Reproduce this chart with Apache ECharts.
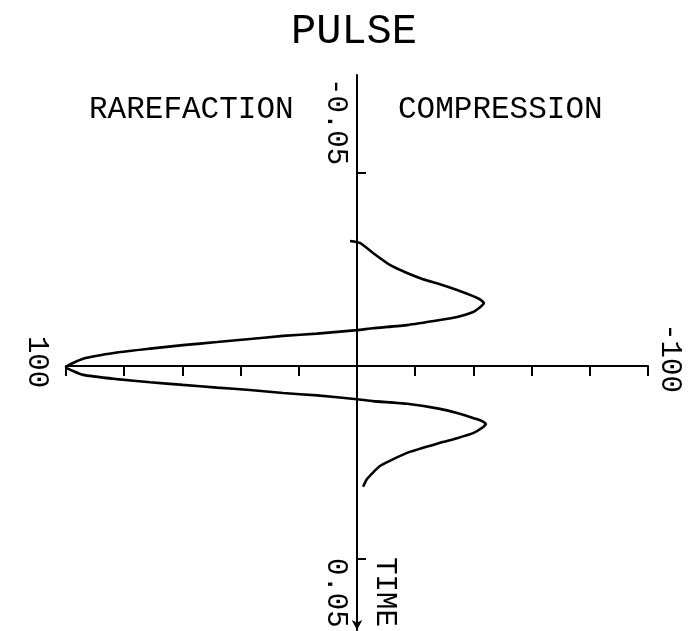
<!DOCTYPE html>
<html lang="en">
<head>
    <meta charset="UTF-8">
    <title>Pulse</title>
    <script type="text/javascript" src="https://cdn.jsdelivr.net/npm/echarts@6/dist/echarts.min.js"></script>
    <style>
        html, body { margin: 0; padding: 0; background: #fff; }
        #pulse { width: 697px; height: 631px; }
    </style>
</head>
<body>
<div id="pulse"></div>
<script type="text/javascript">
    // pulse: time (s) and pressure, in drawing order
    var timeVals = [
        -0.0324, -0.0319, -0.0293, -0.0262, -0.0241, -0.0225, -0.0212, -0.0197, -0.0181, -0.0172,
        -0.0163, -0.0153, -0.0140, -0.0127, -0.0119, -0.0106, -0.0098, -0.0093, -0.0084, -0.0078,
        -0.0070, -0.0062, -0.0054, -0.0045, -0.0035, -0.0019, 0.0003,
        0.0023, 0.0034, 0.0042, 0.0049, 0.0056, 0.0062, 0.0070, 0.0076, 0.0086,
        0.0091, 0.0098, 0.0111, 0.0122, 0.0135, 0.0142, 0.0150, 0.0160, 0.0174, 0.0187,
        0.0199, 0.0225, 0.0259, 0.0293, 0.0313
    ];
    var pressureVals = [
        2.4, -1.0, -5.5, -11.3, -17.2, -22.7, -28.5, -34.4, -39.9, -42.4,
        -43.6, -42.4, -39.9, -34.4, -28.5, -17.2, -5.5, 0, 13.7, 25.4,
        36.8, 48.1, 59.8, 71.1, 82.5, 94.1, 100,
        94.1, 82.5, 71.1, 59.8, 48.1, 36.8, 25.4, 13.7, 0,
        -5.5, -17.2, -28.5, -34.4, -39.9, -42.8, -44.3, -43.0, -39.9, -34.4,
        -28.5, -17.2, -7.9, -3.4, -2.1
    ];
    var timeTicks = [-0.05, 0.05];
    var timeTickLabels = ['-0.05', '0.05'];
    var pressureEnds = [100, -100];
    var pressureEndLabels = ['100', '-100'];

    var font = "'Liberation Mono', 'DejaVu Sans Mono', monospace";

    var chart = echarts.init(document.getElementById('pulse'));
    var points = [];
    for (var i = 0; i < timeVals.length; i++) {
        points.push([pressureVals[i], timeVals[i]]);
    }

    chart.setOption({
        backgroundColor: '#fff',
        animation: false,
        title: [
            { text: 'PULSE', left: 286, top: 6,
              textStyle: { fontFamily: font, fontSize: 42, fontWeight: 'normal', color: '#000' } },
            { text: 'RAREFACTION', left: 84, top: 89,
              textStyle: { fontFamily: font, fontSize: 31, fontWeight: 'normal', color: '#000' } },
            { text: 'COMPRESSION', left: 393, top: 89,
              textStyle: { fontFamily: font, fontSize: 31, fontWeight: 'normal', color: '#000' } }
        ],
        grid: { left: 66, width: 582, top: 75, height: 555 },
        xAxis: {
            type: 'value',
            min: -100,
            max: 100,
            interval: 20,
            inverse: true,
            axisLine: { onZero: true, lineStyle: { color: '#000', width: 2 } },
            axisTick: { length: 10, lineStyle: { color: '#000', width: 2 } },
            axisLabel: { show: false },
            splitLine: { show: false }
        },
        yAxis: {
            type: 'value',
            min: -0.0754,
            max: 0.0684,
            inverse: true,
            axisLine: {
                onZero: true,
                symbol: ['arrow', 'none'],
                symbolSize: [8, 10],
                lineStyle: { color: '#000', width: 2 }
            },
            axisTick: { inside: true, length: 9, customValues: timeTicks, lineStyle: { color: '#000', width: 2 } },
            axisLabel: { show: false },
            splitLine: { show: false }
        },
        series: [{
            type: 'line',
            data: points,
            symbol: 'none',
            smooth: 0.15,
            clip: false,
            lineStyle: { color: '#000', width: 2.6 }
        }]
    });

    // rotated labels placed on the axes' own scale
    var graphics = [];
    var t0 = chart.convertToPixel({ gridIndex: 0 }, [0, timeTicks[0]]);
    var t1 = chart.convertToPixel({ gridIndex: 0 }, [0, timeTicks[1]]);
    graphics.push({ type: 'text', x: t0[0] - 21, y: t0[1] - 8, rotation: -Math.PI / 2,
        style: { text: timeTickLabels[0], font: '29px ' + font, fill: '#000', align: 'right', verticalAlign: 'middle' } });
    graphics.push({ type: 'text', x: t1[0] - 21, y: t1[1] - 1, rotation: -Math.PI / 2,
        style: { text: timeTickLabels[1], font: '29px ' + font, fill: '#000', align: 'left', verticalAlign: 'middle' } });
    graphics.push({ type: 'text', x: t1[0] + 28, y: t1[1] + 33, rotation: -Math.PI / 2,
        style: { text: 'TIME', font: '29px ' + font, fill: '#000', align: 'center', verticalAlign: 'middle' } });
    var p0 = chart.convertToPixel({ gridIndex: 0 }, [pressureEnds[0], 0]);
    var p1 = chart.convertToPixel({ gridIndex: 0 }, [pressureEnds[1], 0]);
    graphics.push({ type: 'text', x: p0[0] - 29, y: p0[1] - 4, rotation: -Math.PI / 2,
        style: { text: pressureEndLabels[0], font: '29px ' + font, fill: '#000', align: 'center', verticalAlign: 'middle' } });
    graphics.push({ type: 'text', x: p1[0] + 22, y: p1[1] - 8, rotation: -Math.PI / 2,
        style: { text: pressureEndLabels[1], font: '29px ' + font, fill: '#000', align: 'center', verticalAlign: 'middle' } });
    chart.setOption({ graphic: graphics });
</script>
</body>
</html>
